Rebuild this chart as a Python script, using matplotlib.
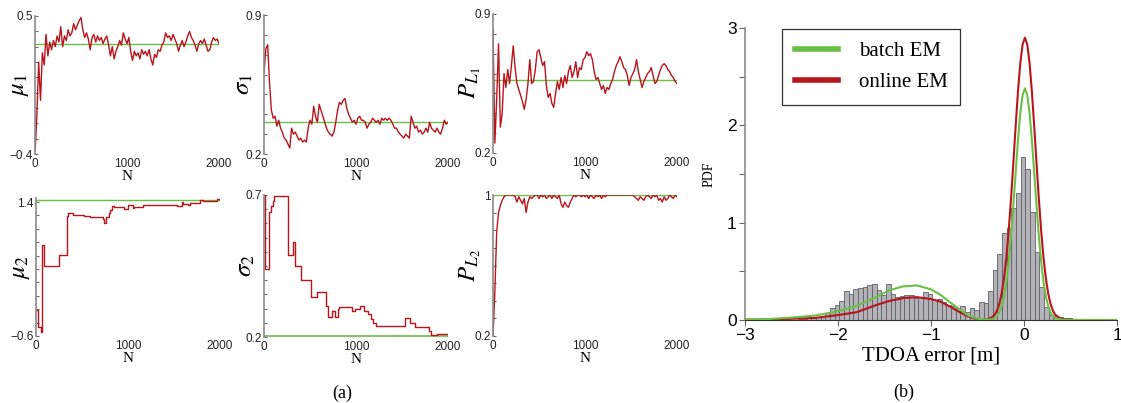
import numpy as np
import matplotlib
matplotlib.use("Agg")
import matplotlib.pyplot as plt
from matplotlib.ticker import FixedLocator

plt.rcParams["font.family"] = ["Liberation Sans", "DejaVu Sans"]
plt.rcParams["mathtext.fontset"] = "stix"

RED = "#b8141c"
GREEN = "#6abf45"
SERIF = ["Liberation Serif", "DejaVu Serif"]

# ---------- (a) online estimates vs. sample count N (every 20 samples) ----------
n_step = 20

mu1_true = 0.32
mu1_vals = [-0.40, -0.15, 0.20, -0.05, 0.26, 0.18, 0.38, 0.24, 0.33, 0.28,
            0.34, 0.30, 0.37, 0.33, 0.43, 0.30, 0.37, 0.34, 0.41, 0.37,
            0.39, 0.45, 0.41, 0.44, 0.47, 0.49, 0.41, 0.36, 0.39, 0.35,
            0.28, 0.36, 0.38, 0.33, 0.37, 0.34, 0.36, 0.32, 0.35, 0.37,
            0.31, 0.24, 0.30, 0.22, 0.27, 0.30, 0.34, 0.31, 0.39, 0.35,
            0.32, 0.36, 0.27, 0.21, 0.27, 0.24, 0.26, 0.22, 0.28, 0.25,
            0.27, 0.24, 0.28, 0.22, 0.18, 0.25, 0.23, 0.28, 0.27, 0.31,
            0.33, 0.39, 0.36, 0.37, 0.34, 0.38, 0.35, 0.32, 0.27, 0.31,
            0.34, 0.30, 0.33, 0.37, 0.40, 0.36, 0.34, 0.31, 0.27, 0.32,
            0.34, 0.32, 0.35, 0.31, 0.27, 0.28, 0.33, 0.36, 0.34, 0.35,
            0.32]

sigma1_true = 0.36
sigma1_vals = [0.61, 0.73, 0.75, 0.56, 0.42, 0.38, 0.39, 0.34, 0.37, 0.33,
               0.31, 0.28, 0.27, 0.25, 0.23, 0.33, 0.30, 0.31, 0.29, 0.27,
               0.28, 0.26, 0.27, 0.26, 0.33, 0.37, 0.35, 0.44, 0.39, 0.36,
               0.45, 0.42, 0.39, 0.36, 0.33, 0.31, 0.30, 0.29, 0.31, 0.36,
               0.42, 0.46, 0.45, 0.47, 0.48, 0.43, 0.40, 0.38, 0.36, 0.37,
               0.35, 0.38, 0.39, 0.37, 0.37, 0.36, 0.33, 0.35, 0.36, 0.38,
               0.37, 0.36, 0.37, 0.35, 0.38, 0.37, 0.38, 0.37, 0.38, 0.37,
               0.35, 0.33, 0.33, 0.31, 0.30, 0.29, 0.28, 0.30, 0.29, 0.28,
               0.39, 0.36, 0.33, 0.34, 0.31, 0.32, 0.30, 0.31, 0.33, 0.31,
               0.36, 0.33, 0.32, 0.31, 0.33, 0.31, 0.30, 0.33, 0.37, 0.35,
               0.36]

pl1_true = 0.57
pl1_vals = [0.82, 0.25, 0.47, 0.75, 0.33, 0.40, 0.60, 0.53, 0.62, 0.55,
            0.64, 0.74, 0.63, 0.55, 0.52, 0.49, 0.46, 0.42, 0.47, 0.55,
            0.67, 0.55, 0.56, 0.62, 0.71, 0.72, 0.68, 0.64, 0.66, 0.54,
            0.48, 0.50, 0.45, 0.43, 0.50, 0.56, 0.52, 0.58, 0.53, 0.59,
            0.55, 0.61, 0.64, 0.58, 0.61, 0.66, 0.58, 0.63, 0.62, 0.67,
            0.68, 0.71, 0.69, 0.70, 0.67, 0.61, 0.57, 0.58, 0.55, 0.52,
            0.54, 0.50, 0.53, 0.52, 0.55, 0.57, 0.61, 0.64, 0.66, 0.685,
            0.66, 0.63, 0.62, 0.59, 0.54, 0.58, 0.60, 0.62, 0.67, 0.61,
            0.57, 0.53, 0.56, 0.58, 0.60, 0.61, 0.63, 0.59, 0.55, 0.56,
            0.59, 0.62, 0.64, 0.65, 0.64, 0.62, 0.61, 0.59, 0.58, 0.56,
            0.55]

pl2_true = 1.0
pl2_vals = [0.20, 0.45, 0.79, 0.90, 0.94, 0.97, 0.99, 1.00, 1.00, 1.00,
            1.00, 1.00, 0.99, 0.96, 0.99, 0.97, 0.95, 0.98, 0.90, 0.96,
            0.99, 0.98, 0.99, 1.00, 1.00, 0.98, 1.00, 0.99, 1.00, 0.98,
            0.99, 1.00, 0.98, 1.00, 0.99, 0.98, 1.00, 0.95, 0.93, 0.96,
            0.94, 0.93, 0.96, 0.98, 1.00, 0.99, 1.00, 1.00, 0.99, 1.00,
            0.99, 1.00, 0.98, 1.00, 0.99, 0.98, 1.00, 0.99, 1.00, 0.98,
            1.00, 0.99, 1.00, 1.00, 1.00, 1.00, 1.00, 1.00, 1.00, 1.00,
            1.00, 1.00, 1.00, 1.00, 1.00, 1.00, 1.00, 0.99, 0.98, 0.97,
            0.99, 0.98, 0.97, 0.99, 1.00, 0.99, 0.98, 1.00, 0.99, 1.00,
            0.97, 0.98, 0.96, 0.99, 0.97, 0.98, 1.00, 0.99, 0.98, 1.00,
            0.99]

# step-like estimates: (N where value changes, value)
mu2_true = 1.43
mu2_n = [0, 25, 50, 62, 90, 255, 333, 345, 400, 520, 590, 730, 743, 760, 790,
         808, 826, 845, 955, 995, 1050, 1070, 1160, 1195, 1530, 1585, 1600,
         1655, 1670, 1785, 1800, 1820, 1970, 2000]
mu2_v = [-0.21, -0.46, -0.54, 0.76, 0.44, 0.61, 1.19, 1.23, 1.20, 1.19, 1.17,
         1.14, 1.08, 1.18, 1.24, 1.28, 1.34, 1.33, 1.29, 1.35, 1.31, 1.33,
         1.35, 1.36, 1.34, 1.40, 1.37, 1.35, 1.385, 1.425, 1.43, 1.415,
         1.445, 1.445]

sigma2_true = 0.205
sigma2_n = [0, 15, 55, 80, 95, 110, 260, 320, 335, 405, 515, 575, 675, 700,
            740, 770, 800, 820, 960, 990, 1040, 1090, 1130, 1165, 1190, 1220,
            1530, 1590, 1640, 1790, 1820, 1880, 2000]
sigma2_v = [0.70, 0.44, 0.64, 0.66, 0.68, 0.695, 0.49, 0.535, 0.45, 0.40,
            0.34, 0.36, 0.31, 0.27, 0.29, 0.27, 0.30, 0.305, 0.29, 0.30,
            0.31, 0.29, 0.28, 0.265, 0.25, 0.24, 0.267, 0.25, 0.235, 0.22,
            0.206, 0.212, 0.212]

# ---------- (b) TDOA error histogram and fitted mixtures ----------
bin_lo = -2.435
bin_w = 0.05
hist_h = [0.01, 0.01, 0.02, 0.02, 0.03, 0.04, 0.07, 0.12, 0.15, 0.20,
          0.30, 0.27, 0.32, 0.33, 0.34, 0.36, 0.37, 0.31, 0.26, 0.37,
          0.27, 0.24, 0.25, 0.26, 0.26, 0.23, 0.24, 0.29, 0.27, 0.21,
          0.22, 0.19, 0.15, 0.14, 0.12, 0.14, 0.08, 0.12, 0.10, 0.19,
          0.17, 0.30, 0.51, 0.68, 0.89, 0.95, 1.15, 1.30, 1.67, 1.55,
          1.11, 0.70, 0.34, 0.13, 0.05, 0.04, 0.03, 0.02, 0.02, 0.01,
          0.01]

curve_x = [-3.0, -2.75, -2.5, -2.25, -2.0, -1.8, -1.6, -1.45, -1.3, -1.15,
           -1.0, -0.9, -0.8, -0.7, -0.6, -0.5, -0.4, -0.34,
           -0.315, -0.29, -0.265, -0.24, -0.215, -0.19, -0.165, -0.14,
           -0.115, -0.09, -0.065, -0.04, -0.015, 0.01, 0.035, 0.06, 0.085,
           0.11, 0.135, 0.16, 0.185, 0.21, 0.235, 0.26, 0.285, 0.31, 0.335,
           0.4, 0.5, 0.7, 1.0]
batch_y = [0.005, 0.01, 0.025, 0.045, 0.09, 0.145, 0.23, 0.305, 0.345, 0.355,
           0.315, 0.26, 0.185, 0.115, 0.045, 0.012, 0.004, 0.008,
           0.022, 0.042, 0.079, 0.142, 0.242, 0.392, 0.596, 0.860,
           1.172, 1.512, 1.844, 2.125, 2.313, 2.38, 2.313, 2.125, 1.844,
           1.512, 1.172, 0.858, 0.594, 0.388, 0.240, 0.140, 0.077, 0.040,
           0.020, 0.004, 0.0, 0.0, 0.0]
online_y = [0.003, 0.006, 0.012, 0.022, 0.05, 0.08, 0.15, 0.195, 0.225, 0.235,
            0.215, 0.19, 0.14, 0.085, 0.035, 0.008, 0.004, 0.03,
            0.055, 0.098, 0.167, 0.274, 0.429, 0.640, 0.911, 1.239,
            1.607, 1.987, 2.344, 2.638, 2.832, 2.90, 2.832, 2.638, 2.344,
            1.987, 1.607, 1.239, 0.911, 0.639, 0.428, 0.273, 0.166, 0.097,
            0.054, 0.01, 0.001, 0.0, 0.0]

# ---------- figure ----------
W, H = 1121, 403
fig = plt.figure(figsize=(W / 100, H / 100), dpi=100)


def box(l, t, r, b):
    return [l / W, 1 - b / H, (r - l) / W, (b - t) / H]


def lab(v):
    return f"{v:g}".replace("-", "\u2212")


def small_panel(rect, ylim, minor_step, ylabel, lab_x):
    ax = fig.add_axes(rect)
    ax.set_xlim(0, 2000)
    ax.set_ylim(*ylim)
    for s in ["top", "right", "bottom"]:
        ax.spines[s].set_visible(False)
    ax.spines["left"].set_color("#8a8a8a")
    ax.spines["left"].set_linewidth(1.2)
    ax.set_yticks([ylim[0], ylim[1]])
    ax.set_yticklabels([lab(ylim[0]), lab(ylim[1])])
    ax.yaxis.set_minor_locator(FixedLocator(np.arange(ylim[0], ylim[1] + 1e-9, minor_step)))
    ax.tick_params(axis="y", which="both", direction="in", length=2.5, width=0.8,
                   color="#666666", labelsize=8.5, pad=1.5, labelcolor="#222222")
    ax.set_xticks([0, 1000, 2000])
    ax.set_xticklabels(["0", "1000", "2000"])
    ax.tick_params(axis="x", length=0, labelsize=8.5, pad=3, labelcolor="#222222")
    ax.set_xlabel("N", family=SERIF, fontsize=11, labelpad=0)
    ax.set_ylabel(ylabel, fontsize=18)
    ax.yaxis.set_label_coords(lab_x, 0.5)
    return ax


n_grid = np.arange(len(mu1_vals)) * n_step

ax = small_panel(box(35, 16, 219, 154), (-0.4, 0.5), 0.1, r"$\mu_1$", -0.02)
ax.axhline(mu1_true, color=GREEN, lw=1.0)
ax.plot(n_grid, mu1_vals, color=RED, lw=1.0)

ax = small_panel(box(264, 15, 448, 154), (0.2, 0.9), 0.1, r"$\sigma_1$", -0.05)
ax.axhline(sigma1_true, color=GREEN, lw=1.0)
ax.plot(n_grid, sigma1_vals, color=RED, lw=1.0)

ax = small_panel(box(493, 14, 677, 153), (0.2, 0.9), 0.1, r"$P_{L_1}$", -0.054)
ax.axhline(pl1_true, color=GREEN, lw=1.0)
ax.plot(n_grid, pl1_vals, color=RED, lw=1.0)

ax = small_panel(box(36, 198, 220, 336), (-0.6, 1.46), 0.2, r"$\mu_2$", -0.02)
ax.set_yticks([-0.6, 1.4])
ax.set_yticklabels([lab(-0.6), lab(1.4)])
ax.axhline(mu2_true, color=GREEN, lw=1.0)
ax.plot(mu2_n, mu2_v, color=RED, lw=1.0, drawstyle="steps-post")

ax = small_panel(box(264, 195, 448, 337), (0.2, 0.7), 0.05, r"$\sigma_2$", -0.04)
ax.axhline(sigma2_true, color=GREEN, lw=1.2)
ax.plot(sigma2_n, sigma2_v, color=RED, lw=1.0, drawstyle="steps-post")

ax = small_panel(box(493, 195, 677, 336), (0.2, 1.0), 0.1, r"$P_{L_2}$", -0.054)
ax.axhline(pl2_true, color=GREEN, lw=1.0)
ax.plot(n_grid, pl2_vals, color=RED, lw=1.0)

# right panel
ax = fig.add_axes(box(745, 28, 1117, 320))
edges = bin_lo + np.arange(len(hist_h)) * bin_w
ax.bar(edges, hist_h, width=bin_w, align="edge", color="#b2b2b8",
       edgecolor="#5f5f66", linewidth=0.6, zorder=1)
ax.plot(curve_x, online_y, color=RED, lw=1.5, label="online EM", zorder=3)
ax.plot(curve_x, batch_y, color=GREEN, lw=1.5, label="batch EM", zorder=4)
ax.set_xlim(-3, 1)
ax.set_ylim(0, 3)
for s in ["top", "right"]:
    ax.spines[s].set_visible(False)
ax.spines["left"].set_color("#8a8a8a")
ax.spines["left"].set_linewidth(1.2)
ax.spines["bottom"].set_color("#333333")
ax.set_yticks([0, 1, 2, 3])
ax.yaxis.set_minor_locator(FixedLocator([0.5, 1.5, 2.5]))
ax.set_xticks([-3, -2, -1, 0, 1])
ax.tick_params(which="both", direction="out", length=4, width=0.8,
               color="#666666", labelsize=12.5, pad=2)
ax.set_xlabel("TDOA error [m]", family=SERIF, fontsize=15, labelpad=2)
ax.set_ylabel("PDF", family=SERIF, fontsize=10)
ax.yaxis.set_label_coords(-0.08, 0.5)

handles, labels = ax.get_legend_handles_labels()
leg = ax.legend(handles[::-1], labels[::-1], loc="upper left",
                bbox_to_anchor=(0.0995, 0.997), borderaxespad=0,
                prop={"family": SERIF, "size": 15}, fancybox=False,
                edgecolor="#333333", framealpha=1, handlelength=2.1,
                handletextpad=1.0, labelspacing=0.55, borderpad=0.6)
leg.get_frame().set_linewidth(0.9)
for h in leg.get_lines():
    h.set_linewidth(4)

fig.text(342 / W, 1 - 393 / H, "(a)", family=SERIF, fontsize=13,
         ha="center", va="center")
fig.text(904 / W, 1 - 392 / H, "(b)", family=SERIF, fontsize=13,
         ha="center", va="center")

fig.savefig("out.png", dpi=100)
